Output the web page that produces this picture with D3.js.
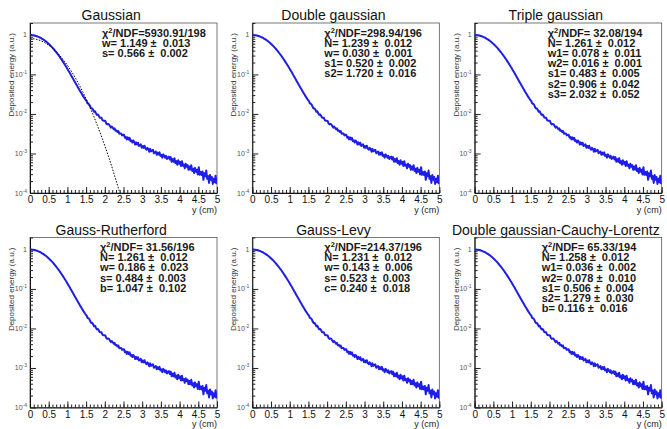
<!DOCTYPE html>
<html>
<head>
<meta charset="utf-8">
<script src="https://cdn.jsdelivr.net/npm/d3@7"></script>
<style>
  body { margin: 0; background: #fff; }
  svg { display: block; font-family: "Liberation Sans", Arial, Helvetica, sans-serif; }
</style>
</head>
<body>
<svg id="chart" width="667" height="429"></svg>
<script>
// Lateral energy profile, 200 bins of 0.025 cm from y = 0 to 5 cm
const binWidth = 0.025;
const depositedEnergy = [
  0.990, 0.988, 0.983, 0.975, 0.966, 0.953, 0.938, 0.922, 0.903, 0.882,
  0.860, 0.836, 0.810, 0.784, 0.756, 0.728, 0.698, 0.669, 0.639, 0.609,
  0.578, 0.548, 0.519, 0.489, 0.461, 0.433, 0.406, 0.379, 0.354, 0.329,
  0.306, 0.284, 0.262, 0.242, 0.223, 0.205, 0.189, 0.173, 0.158, 0.145,
  0.132, 0.120, 0.110, 0.0994, 0.0903, 0.0820, 0.0745, 0.0676, 0.0614, 0.0558,
  0.0507, 0.0461, 0.0419, 0.0382, 0.0348, 0.0318, 0.0291, 0.0266, 0.0245, 0.0225,
  0.0214, 0.0186, 0.0181, 0.0172, 0.0151, 0.0138, 0.0138, 0.0127, 0.0114, 0.0117,
  0.0104, 0.00948, 0.00972, 0.00903, 0.00814, 0.00797, 0.00796, 0.00693, 0.00674, 0.00675,
  0.00664, 0.00580, 0.00543, 0.00558, 0.00544, 0.00496, 0.00451, 0.00483, 0.00446, 0.00411,
  0.00431, 0.00375, 0.00383, 0.00353, 0.00371, 0.00317, 0.00321, 0.00321, 0.00286, 0.00296,
  0.00299, 0.00249, 0.00263, 0.00227, 0.00256, 0.00226, 0.00248, 0.00205, 0.00214, 0.00189,
  0.00213, 0.00198, 0.00168, 0.00191, 0.00169, 0.00187, 0.00155, 0.00162, 0.00170, 0.00140,
  0.00155, 0.00138, 0.00157, 0.00134, 0.00124, 0.00139, 0.00130, 0.00111, 0.00131, 0.00113,
  0.00119, 0.00124, 0.00101, 0.00106, 0.00112, 0.000924, 0.00105, 0.000940, 0.00107, 0.000869,
  0.000922, 0.000784, 0.000949, 0.000885, 0.000781, 0.000869, 0.000721, 0.000789, 0.000832, 0.000702,
  0.000808, 0.000620, 0.000721, 0.000617, 0.000760, 0.000576, 0.000643, 0.000519, 0.000678, 0.000552,
  0.000612, 0.000481, 0.000636, 0.000489, 0.000523, 0.000420, 0.000551, 0.000461, 0.000509, 0.000388,
  0.000466, 0.000390, 0.000502, 0.000362, 0.000412, 0.000320, 0.000432, 0.000344, 0.000388, 0.000294,
  0.000450, 0.000289, 0.000341, 0.000285, 0.000352, 0.000215, 0.000316, 0.000266, 0.000370, 0.000228,
  0.000267, 0.000180, 0.000286, 0.000217, 0.000253, 0.000170, 0.000230, 0.000186, 0.000275, 0.000168
];

// Single gaussian fit (first panel), sampled every 0.1 cm
const gaussFitY = [0, 0.1, 0.2, 0.3, 0.4, 0.5, 0.6, 0.7, 0.8, 0.9, 1.0, 1.1, 1.2,
                   1.3, 1.4, 1.5, 1.6, 1.7, 1.8, 1.9, 2.0, 2.1, 2.2, 2.3, 2.4, 2.5];
const gaussFitEnergy = [0.810, 0.7975, 0.761, 0.7038, 0.631, 0.5483, 0.4618, 0.377, 0.2983,
                        0.2288, 0.1701, 0.1226, 0.0856, 0.05794, 0.03801, 0.02417, 0.0149,
                        0.008902, 0.005156, 0.002893, 0.001574, 0.00083, 0.000424, 0.00021,
                        0.0001008, 0.0000469];

const panelTitles = ["Gaussian", "Double gaussian", "Triple gaussian",
                     "Gauss-Rutherford", "Gauss-Levy", "Double gaussian-Cauchy-Lorentz"];

const fitStats = [
  ["χ²/NDF=5930.91/198", "w= 1.149 ±  0.013", "s= 0.566 ±  0.002"],
  ["χ²/NDF=298.94/196", "N= 1.239 ±  0.012", "w= 0.030 ±  0.001", "s1= 0.520 ±  0.002", "s2= 1.720 ±  0.016"],
  ["χ²/NDF= 32.08/194", "N= 1.261 ±  0.012", "w1= 0.078 ±  0.011", "w2= 0.016 ±  0.001",
   "s1= 0.483 ±  0.005", "s2= 0.906 ±  0.042", "s3= 2.032 ±  0.052"],
  ["χ²/NDF= 31.56/196", "N= 1.261 ±  0.012", "w= 0.186 ±  0.023", "s= 0.484 ±  0.003", "b= 1.047 ±  0.102"],
  ["χ²/NDF=214.37/196", "N= 1.231 ±  0.012", "w= 0.143 ±  0.006", "s= 0.523 ±  0.003", "c= 0.240 ±  0.018"],
  ["χ²/NDF= 65.33/194", "N= 1.258 ±  0.012", "w1= 0.036 ±  0.002", "w2= 0.078 ±  0.010",
   "s1= 0.506 ±  0.004", "s2= 1.279 ±  0.030", "b= 0.116 ±  0.016"]
];
const statsOffsetX = [102, 102, 103, 100, 102, 97];

const xTickValues = [0, 0.5, 1, 1.5, 2, 2.5, 3, 3.5, 4, 4.5, 5];
const xTickLabels = ["0", "0.5", "1", "1.5", "2", "2.5", "3", "3.5", "4", "4.5", "5"];
const yTickValues = [1, 1e-1, 1e-2, 1e-3, 1e-4];
const yTickExponents = ["", "-1", "-2", "-3", "-4"];
const xAxisTitle = "y (cm)";
const yAxisTitle = "Deposited energy (a.u.)";

const svg = d3.select("#chart");
const padW = 667 / 3, padH = 214.5;
const dataColor = "#1e1ee6";

panelTitles.forEach((title, k) => {
  const col = k % 3, row = Math.floor(k / 3);
  const px = col * padW, py = row * padH;
  const x0 = px + 30, x1 = px + 217, yTop = py + 23, yBot = py + 193;

  const x = d3.scaleLinear().domain([0, 5]).range([x0, x1]);
  const y = d3.scaleLog().domain([1e-4, 2]).range([yBot, yTop]);

  const g = svg.append("g");
  const clipId = "clip" + k;
  svg.append("clipPath").attr("id", clipId)
    .append("rect").attr("x", x0).attr("y", yTop).attr("width", x1 - x0).attr("height", yBot - yTop);

  // frame
  g.append("rect").attr("x", x0).attr("y", yTop).attr("width", x1 - x0).attr("height", yBot - yTop)
    .attr("fill", "none").attr("stroke", "#555").attr("stroke-width", 0.8);

  // x axis: minor then major ticks, pointing into the frame
  const minorX = d3.range(0, 51).map(i => i / 10);
  g.append("g").attr("transform", `translate(0,${yBot})`)
    .call(d3.axisBottom(x).tickValues(minorX).tickSize(-3).tickSizeOuter(0))
    .call(s => s.selectAll(".tick text").remove())
    .call(s => s.select(".domain").attr("stroke", "#111"))
    .call(s => s.selectAll(".tick line").attr("stroke", "#222"));
  g.append("g").attr("transform", `translate(0,${yBot})`)
    .call(d3.axisBottom(x).tickValues(xTickValues).tickSize(-6).tickSizeOuter(0)
      .tickPadding(3).tickFormat((d, i) => xTickLabels[i]))
    .call(s => s.select(".domain").remove())
    .call(s => s.selectAll(".tick line").attr("stroke", "#222"))
    .call(s => s.selectAll(".tick text").attr("font-size", 10).attr("fill", "#111")
      .attr("font-family", "'Liberation Sans', Arial, sans-serif"));

  // y axis (log)
  const minorY = [];
  [1e-4, 1e-3, 1e-2, 1e-1, 1].forEach(dec => {
    for (let m = 2; m <= 9; m++) if (dec * m <= 2) minorY.push(dec * m);
  });
  g.append("g").attr("transform", `translate(${x0},0)`)
    .call(d3.axisLeft(y).tickValues(minorY).tickSize(-3).tickSizeOuter(0))
    .call(s => s.selectAll(".tick text").remove())
    .call(s => s.select(".domain").attr("stroke", "#111"))
    .call(s => s.selectAll(".tick line").attr("stroke", "#222"));
  g.append("g").attr("transform", `translate(${x0},0)`)
    .call(d3.axisLeft(y).tickValues(yTickValues).tickSize(-6).tickSizeOuter(0))
    .call(s => s.selectAll(".tick text").remove())
    .call(s => s.select(".domain").remove())
    .call(s => s.selectAll(".tick line").attr("stroke", "#222"));

  const yl = g.append("g").attr("font-size", 7).attr("fill", "#555");
  yTickValues.forEach((v, i) => {
    const t = yl.append("text").attr("x", x0 - 3).attr("y", y(v) + 2.5).attr("text-anchor", "end");
    if (yTickExponents[i] === "") {
      t.text("1");
    } else {
      t.append("tspan").text("10");
      t.append("tspan").attr("font-size", 5).attr("dy", -3).text(yTickExponents[i]);
    }
  });

  // axis titles
  g.append("text").attr("x", x1).attr("y", yBot + 19.5).attr("text-anchor", "end")
    .attr("font-size", 9).attr("fill", "#222").text(xAxisTitle);
  g.append("text").attr("transform", `translate(${px + 14},${yTop + 10}) rotate(-90)`)
    .attr("text-anchor", "end").attr("font-size", 8).attr("fill", "#333").text(yAxisTitle);

  // panel title
  g.append("text").attr("x", px + padW / 2).attr("y", py + 20).attr("text-anchor", "middle")
    .attr("font-size", 14).attr("fill", "#111").text(title);

  // data
  const plot = g.append("g").attr("clip-path", `url(#${clipId})`);
  const line = d3.line().x((d, i) => x((i + 0.5) * binWidth)).y(d => y(d));
  plot.append("path").datum(depositedEnergy).attr("d", line)
    .attr("fill", "none").attr("stroke", dataColor).attr("stroke-width", 2)
    .attr("stroke-linejoin", "round");

  if (k === 0) {
    const fitLine = d3.line().x((d, i) => x(gaussFitY[i])).y(d => y(d)).curve(d3.curveMonotoneX);
    plot.append("path").datum(gaussFitEnergy).attr("d", fitLine)
      .attr("fill", "none").attr("stroke", "#000").attr("stroke-width", 1)
      .attr("stroke-dasharray", "1.5,1.5");
  }

  // fit statistics
  const st = g.append("g").attr("font-size", 11).attr("font-weight", "bold").attr("fill", "#1a1a1a")
    .style("white-space", "pre");
  fitStats[k].forEach((s, j) => {
    const t = st.append("text").attr("x", px + statsOffsetX[k]).attr("y", py + 36.5 + j * 10.2)
      .style("white-space", "pre");
    if (s.startsWith("χ²")) {
      t.append("tspan").text("χ");
      t.append("tspan").attr("font-size", 7.5).attr("dy", -4).text("2");
      t.append("tspan").attr("dy", 4).text(s.slice(2));
    } else {
      t.text(s);
    }
  });
});
</script>
</body>
</html>
